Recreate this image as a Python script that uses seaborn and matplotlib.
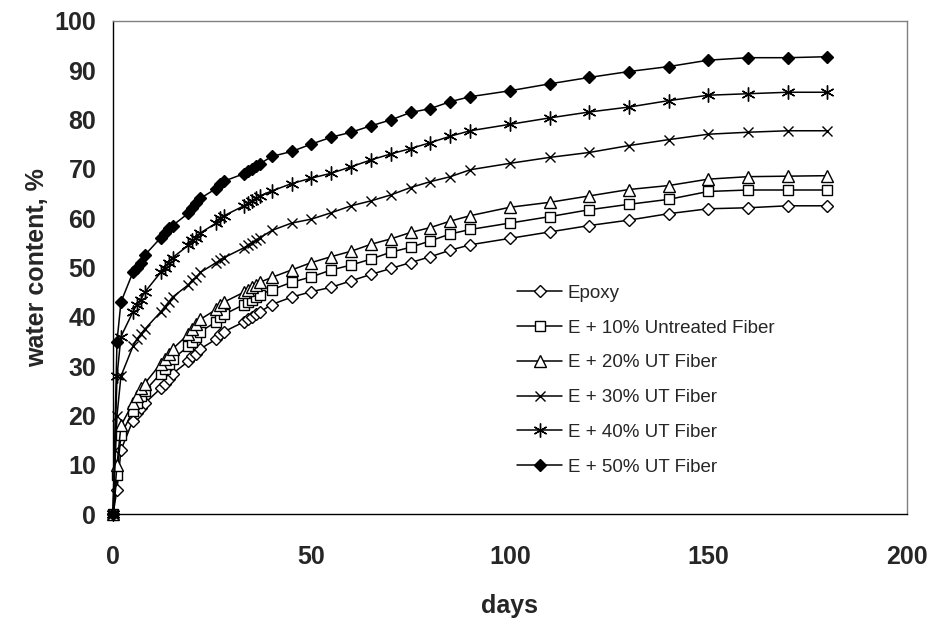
import matplotlib
matplotlib.use("Agg")
import matplotlib.pyplot as plt
import seaborn as sns
import pandas as pd

# ---- data ----
DAYS = [0, 1, 2, 5, 6, 7, 8, 12, 13, 14, 15, 19, 20, 21, 22, 26, 27, 28,
        33, 34, 35, 36, 37, 40, 45, 50, 55, 60, 65, 70, 75, 80, 85, 90,
        100, 110, 120, 130, 140, 150, 160, 170, 180]

EPOXY = [0, 5, 13, 19, 20.5, 21.5, 22.5, 25.5, 26.5, 27.5, 28.5, 31, 32, 32.5, 33.5,
         35.5, 36.5, 37, 39, 39.5, 40, 40.5, 41, 42.5, 44, 45.1, 46.0, 47.3, 48.6,
         49.8, 51.0, 52.2, 53.5, 54.6, 55.9, 57.2, 58.5, 59.6, 60.9, 61.9, 62.1, 62.5, 62.5]

E10 = [0, 8, 16, 21, 22.5, 24, 25, 28.5, 29.5, 30.5, 31.5, 34, 35, 36, 37,
       39, 40, 40.5, 42.5, 43, 43.5, 44, 44.5, 45.5, 47, 48.1, 49.5, 50.5, 51.7,
       53.1, 54.1, 55.4, 56.8, 57.7, 59.0, 60.3, 61.7, 62.8, 63.8, 65.4, 65.7, 65.7, 65.7]

E20 = [0, 10, 18, 22.5, 24, 25.5, 26.5, 30.5, 31.5, 32.5, 33.5, 36.5, 37.5, 38.5, 39.5,
       41.5, 42.5, 43, 45, 45.5, 46, 46.5, 47, 48, 49.5, 51.0, 52.2, 53.3, 54.7,
       55.8, 57.1, 58.1, 59.4, 60.5, 62.2, 63.2, 64.5, 65.8, 66.6, 67.9, 68.4, 68.5, 68.6]

E30 = [0, 20, 28, 34, 35.5, 36.5, 37.5, 41, 42, 43, 44, 46.5, 47.5, 48, 49,
       51, 51.5, 52, 54, 54.5, 55, 55.5, 56, 57.5, 59, 59.8, 61.1, 62.5, 63.5,
       64.7, 66.2, 67.4, 68.4, 69.8, 71.1, 72.3, 73.3, 74.7, 75.9, 77.0, 77.4, 77.7, 77.7]

E40 = [0, 28, 36, 41, 42.5, 43.5, 45, 49, 50, 51, 52, 54.5, 55.5, 56, 57,
       59, 60, 60.5, 62.5, 63, 63.5, 64, 64.5, 65.5, 67, 68.1, 69.1, 70.4, 71.8,
       73.0, 74.1, 75.3, 76.6, 77.7, 79.0, 80.3, 81.5, 82.5, 83.8, 84.9, 85.2, 85.5, 85.5]

E50 = [0, 35, 43, 49, 50, 51, 52.5, 56, 57, 58, 58.5, 61, 62, 63, 64,
       66, 67, 67.5, 69, 69.5, 70, 70.5, 71, 72.5, 73.5, 75.0, 76.4, 77.4, 78.7,
       79.9, 81.4, 82.2, 83.6, 84.6, 85.8, 87.2, 88.5, 89.7, 90.7, 92.0, 92.5, 92.5, 92.7]

LABELS = ["Epoxy", "E + 10% Untreated Fiber", "E + 20% UT Fiber",
          "E + 30% UT Fiber", "E + 40% UT Fiber", "E + 50% UT Fiber"]

sns.set_style("white")
plt.rcParams['font.family'] = ['Liberation Sans', 'DejaVu Sans']

fig = plt.figure(figsize=(9.31, 6.19), dpi=100)
ax = fig.add_axes([0.1214, 0.1691, 0.8525, 0.7975])

# marker style per series
styles = [
    dict(marker='D', ms=6, mfc='white'),
    dict(marker='s', ms=6.5, mfc='white'),
    dict(marker='^', ms=8, mfc='white'),
    dict(marker='x', ms=7.5, mfc='white'),
    dict(marker=(6, 2, 0), ms=10, mfc='white'),
    dict(marker='D', ms=6.5, mfc='black'),
]

for vals, lab, st in zip([EPOXY, E10, E20, E30, E40, E50], LABELS, styles):
    df = pd.DataFrame({"days": DAYS, "water": vals})
    sns.lineplot(data=df, x="days", y="water", ax=ax, color='black',
                 linewidth=1.1, label=lab, mec='black', mew=1.0,
                 clip_on=False, zorder=3, **st)

ax.set_xlim(0, 200)
ax.set_ylim(0, 100)
ax.set_xticks([0, 50, 100, 150, 200])
ax.set_yticks(range(0, 101, 10))

for s in ['left', 'bottom']:
    ax.spines[s].set_color('black')
    ax.spines[s].set_linewidth(1.0)
for s in ['top', 'right']:
    ax.spines[s].set_color('#808080')
    ax.spines[s].set_linewidth(1.0)

ax.tick_params(axis='both', which='major', direction='out', length=6,
               width=1, color='black', labelsize=18)
ax.tick_params(axis='x', pad=16)
ax.tick_params(axis='y', pad=6)
for t in ax.get_xticklabels() + ax.get_yticklabels():
    t.set_fontweight('bold')

ax.set_xlabel("days", fontsize=18, fontweight='bold', labelpad=18)
ax.set_ylabel("water content, %", fontsize=18, fontweight='bold', labelpad=4)

ax.legend(loc='upper left', bbox_to_anchor=(0.509, 0.465), frameon=False,
          fontsize=13.5, handlelength=2.4, handletextpad=0.3,
          labelspacing=0.94, borderpad=0, borderaxespad=0)

fig.savefig("out.png", dpi=100)
